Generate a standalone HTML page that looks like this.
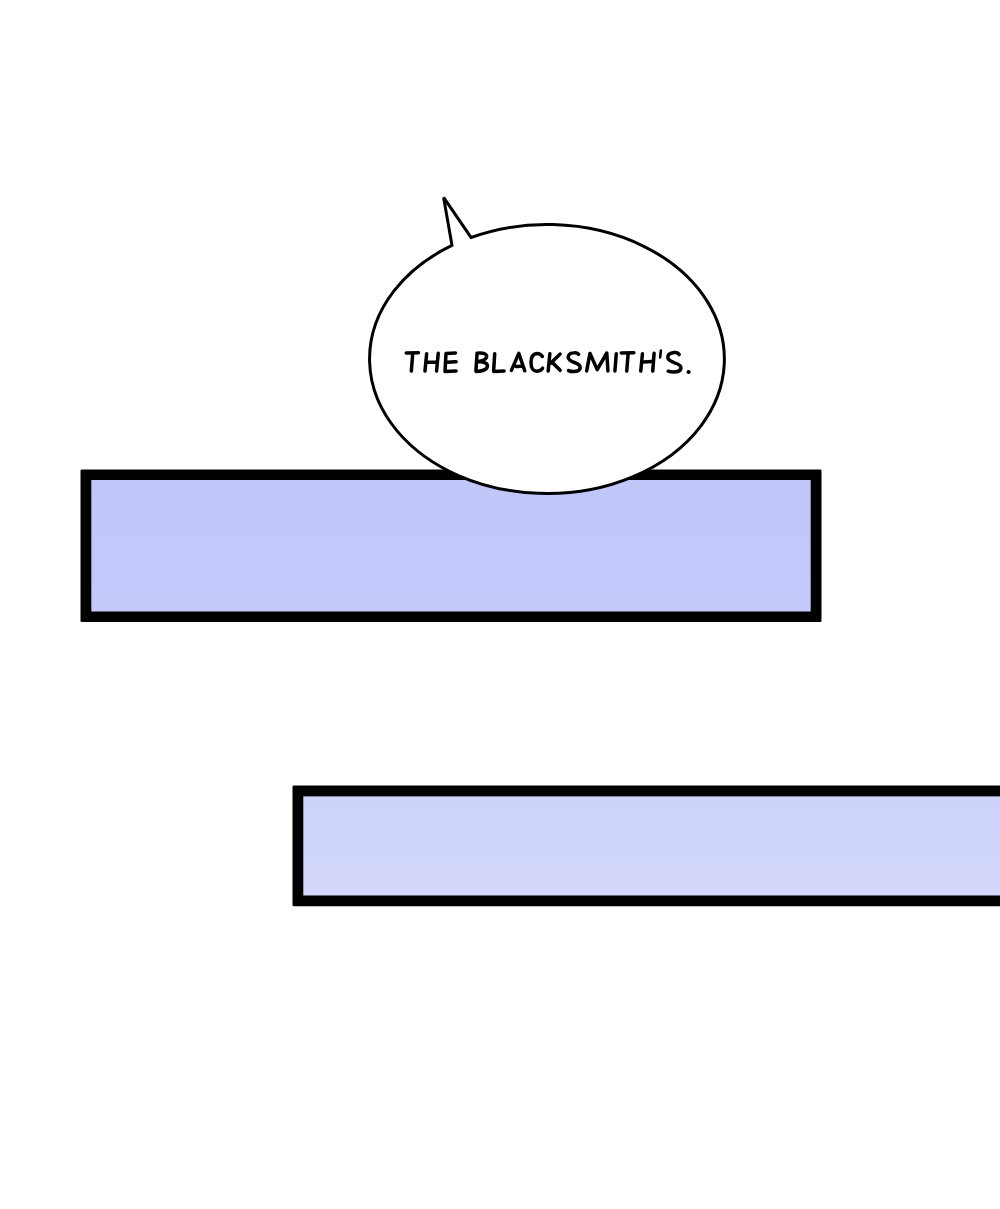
<!DOCTYPE html>
<html><head><meta charset="utf-8"><style>
html,body{margin:0;padding:0;background:#fff;width:1000px;height:1209px;overflow:hidden;}
svg{display:block}
</style></head><body>
<svg width="1000" height="1209" viewBox="0 0 1000 1209">
<defs>
<linearGradient id="g1" x1="0" y1="0" x2="0" y2="1">
<stop offset="0" stop-color="#c0c6f8"/><stop offset="1" stop-color="#c4c9fa"/>
</linearGradient>
<linearGradient id="g2" x1="0" y1="0" x2="0" y2="1">
<stop offset="0" stop-color="#ced3fc"/><stop offset="1" stop-color="#d3d7fb"/>
</linearGradient>
</defs>
<rect x="0" y="0" width="1000" height="1209" fill="#ffffff"/>
<rect x="80.5" y="469.5" width="741" height="152.5" rx="1.3" fill="#000"/>
<rect x="91.3" y="480" width="719.4" height="131.5" fill="url(#g1)"/>
<rect x="292.5" y="785.4" width="720" height="120.9" rx="1.3" fill="#000"/>
<rect x="303.3" y="796.4" width="700" height="99.1" fill="url(#g2)"/>
<path d="M471.0,237.47 A177.4 134.5 0 1 1 452.0,245.41 L443.6,197.4 Z" fill="#fff" stroke="#000" stroke-width="3" stroke-linejoin="miter" stroke-miterlimit="3"/>
<g fill="none" stroke="#000" stroke-width="3.5" stroke-linecap="round" stroke-linejoin="round">
<path d="M406.30,352.98 L418.50,352.82"/>
<path d="M412.68,354.00 L411.32,371.10"/>
<path d="M426.65,353.69 L424.95,371.11"/>
<path d="M438.26,353.29 L436.54,371.11"/>
<path d="M426.90,362.36 L436.50,362.14"/>
<path d="M455.50,352.88 L446.00,353.40 L445.00,371.60 L456.10,371.07"/>
<path d="M446.70,362.15 L456.10,361.85"/>
<path d="M494.71,353.70 L493.60,371.40 L504.10,371.05"/>
<path d="M511.40,370.42 L518.80,353.40 L524.72,370.78"/>
<path d="M515.90,366.53 L522.10,366.27"/>
<path d="M549.85,353.69 L548.15,371.11"/>
<path d="M560.12,354.04 L550.68,363.16"/>
<path d="M553.06,363.26 L560.14,370.34"/>
<path d="M586.68,370.93 L590.00,353.40 L597.20,369.60 L606.80,353.00 L607.91,370.90"/>
<path d="M616.28,353.70 L614.92,370.90"/>
<path d="M621.30,352.96 L633.90,352.64"/>
<path d="M628.08,354.30 L626.72,371.10"/>
<path d="M642.45,353.69 L640.75,371.11"/>
<path d="M654.08,353.30 L652.72,371.10"/>
<path d="M642.90,362.10 L652.30,361.50"/>

<path d="M477,354 L475.9,371 M477,353.2 C484,352.6 487.2,354 486.6,357 C486,359.8 481,361.4 477.2,361.6 C484.5,361.6 487.8,363.5 487.4,366.5 C487,370 481,371.4 476,371.4"/>
<path d="M542.4,356.5 C541,354.2 539.5,353.4 537.2,353.4 C532.8,353.6 531,357.5 531,362.6 C531,368.2 533.5,371.2 536.6,371.2 C539.5,371.2 541.5,369.8 542.6,368.2"/>
<path d="M578.6,354.4 C577.4,352.9 575.8,352.6 573.8,352.8 C570.4,353 568.2,354.8 568.2,357.2 C568.2,360 571.5,361.4 574.5,362.5 C578.5,363.9 580.4,365.3 580.2,367.8 C579.9,370.6 576.8,371.6 573.8,371.6 C571.5,371.6 569.8,371.3 568.4,370.6"/>
<path d="M679.2,354.6 C678.2,352.9 676.4,352.4 674.2,352.6 C670.4,353 667.8,355 667.8,357.6 C667.8,360.4 671.2,361.6 674.6,362.8 C679,364.2 681.2,365.6 681,368 C680.7,371 677,372 673.4,372 C671.2,372 669.6,371.8 668.2,371.2"/>

</g>
<path d="M660.9,350.6 L660.1,357.4" stroke="#000" stroke-width="2.6" stroke-linecap="round" fill="none"/>
<circle cx="688.6" cy="372" r="2.1" fill="#000"/>
</svg>
</body></html>
